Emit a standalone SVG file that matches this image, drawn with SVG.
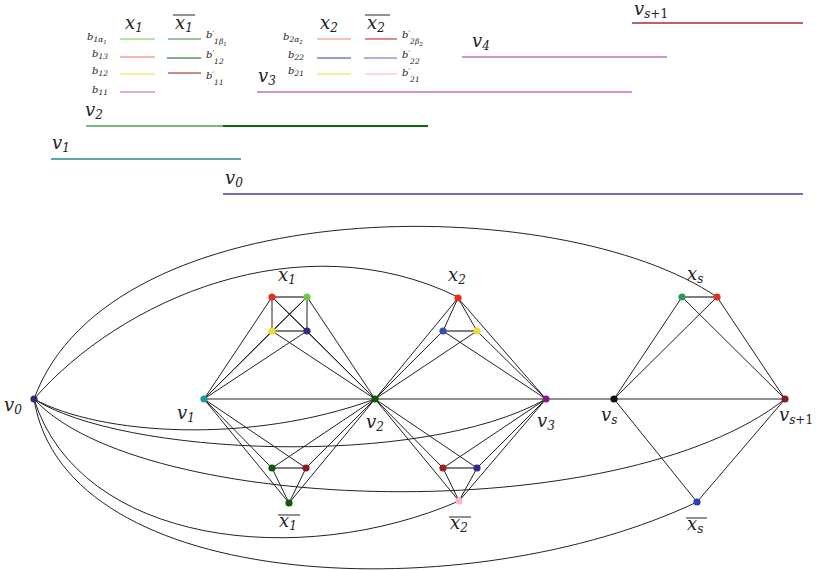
<svg xmlns="http://www.w3.org/2000/svg" width="817" height="570" viewBox="0 0 817 570">
<style>
.e{stroke:#222;stroke-width:1;fill:none}
.h{stroke:#555;stroke-width:1.3;fill:none}
.m{font-family:"DejaVu Serif","Liberation Serif",serif;font-style:italic;font-size:18px;fill:#222}
.s{font-size:12px}
.u{font-style:normal}
.b{font-family:"DejaVu Serif","Liberation Serif",serif;font-style:italic;font-size:10px;fill:#222}
.bs{font-size:7.5px}
.bss{font-size:5.5px}
.ol{stroke:#222;stroke-width:1}
.lg{stroke-width:1.2;fill:none}
.vl{stroke-width:1.5;fill:none}
</style>
<rect width="817" height="570" fill="#fff"/>

<!-- legend -->
<g id="legend">
  <text class="m" x="125" y="29">x<tspan class="s" dy="3">1</tspan></text>
  <text class="m" x="175" y="29">x<tspan class="s" dy="3">1</tspan></text>
  <line class="ol" x1="173" y1="15" x2="195" y2="15"/>
  <line class="lg" x1="120" y1="39" x2="155" y2="39" stroke="#66cc44"/>
  <line class="lg" x1="120" y1="57" x2="155" y2="57" stroke="#f07060"/>
  <line class="lg" x1="120" y1="74" x2="155" y2="74" stroke="#f0e040"/>
  <line class="lg" x1="120" y1="92" x2="155" y2="92" stroke="#c060c0"/>
  <line class="lg" x1="168" y1="39" x2="201" y2="39" stroke="#3a8a3a"/>
  <line class="lg" x1="167" y1="58" x2="201" y2="58" stroke="#0d5a0d"/>
  <line class="lg" x1="168" y1="73" x2="201" y2="73" stroke="#8b1a1a"/>
  <text class="b" x="87" y="40">b<tspan class="bs" dy="2">1α</tspan><tspan class="bss" dy="2">1</tspan></text>
  <text class="b" x="92" y="57">b<tspan class="bs" dy="2">13</tspan></text>
  <text class="b" x="92" y="74">b<tspan class="bs" dy="2">12</tspan></text>
  <text class="b" x="92" y="93">b<tspan class="bs" dy="2">11</tspan></text>
  <text class="b" x="206" y="38">b<tspan class="bs" dy="-2">′</tspan><tspan class="bs" dy="8">1β</tspan><tspan class="bss" dy="2">1</tspan></text>
  <text class="b" x="206" y="58">b<tspan class="bs" dy="-2">′</tspan><tspan class="bs" dy="8">12</tspan></text>
  <text class="b" x="206" y="79">b<tspan class="bs" dy="-2">′</tspan><tspan class="bs" dy="8">11</tspan></text>

  <text class="m" x="320" y="29">x<tspan class="s" dy="3">2</tspan></text>
  <text class="m" x="367" y="29">x<tspan class="s" dy="3">2</tspan></text>
  <line class="ol" x1="365" y1="15" x2="390" y2="15"/>
  <line class="lg" x1="317" y1="39" x2="351" y2="39" stroke="#f08080"/>
  <line class="lg" x1="317" y1="58" x2="351" y2="58" stroke="#3040a0"/>
  <line class="lg" x1="317" y1="74" x2="351" y2="74" stroke="#f0e040"/>
  <line class="lg" x1="365" y1="39" x2="397" y2="39" stroke="#c04040"/>
  <line class="lg" x1="364" y1="58" x2="397" y2="58" stroke="#6060b0"/>
  <line class="lg" x1="365" y1="74" x2="397" y2="74" stroke="#f8c0d0"/>
  <text class="b" x="283" y="40">b<tspan class="bs" dy="2">2α</tspan><tspan class="bss" dy="2">2</tspan></text>
  <text class="b" x="288" y="58">b<tspan class="bs" dy="2">22</tspan></text>
  <text class="b" x="288" y="74">b<tspan class="bs" dy="2">21</tspan></text>
  <text class="b" x="402" y="38">b<tspan class="bs" dy="-2">′</tspan><tspan class="bs" dy="8">2β</tspan><tspan class="bss" dy="2">2</tspan></text>
  <text class="b" x="402" y="58">b<tspan class="bs" dy="-2">′</tspan><tspan class="bs" dy="8">22</tspan></text>
  <text class="b" x="402" y="76">b<tspan class="bs" dy="-2">′</tspan><tspan class="bs" dy="8">21</tspan></text>

  <text class="m" x="634" y="15">v<tspan class="s" dy="3">s<tspan class="u">+1</tspan></tspan></text>
  <line class="vl" x1="632" y1="23" x2="803" y2="23" stroke="#a03030"/>
  <text class="m" x="472" y="47">v<tspan class="s" dy="3">4</tspan></text>
  <line class="vl" x1="462" y1="57" x2="667" y2="57" stroke="#c070c0"/>
  <text class="m" x="258" y="82">v<tspan class="s" dy="3">3</tspan></text>
  <line class="vl" x1="257" y1="92" x2="632" y2="92" stroke="#c070c0"/>
  <text class="m" x="85" y="116">v<tspan class="s" dy="3">2</tspan></text>
  <line x1="86" y1="126" x2="223" y2="126" stroke="#7ab77a" stroke-width="2"/>
  <line x1="223" y1="126" x2="428" y2="126" stroke="#0a6a0a" stroke-width="2"/>
  <text class="m" x="52" y="149">v<tspan class="s" dy="3">1</tspan></text>
  <line class="vl" x1="51" y1="159" x2="241" y2="159" stroke="#2a8a8a"/>
  <text class="m" x="225" y="184">v<tspan class="s" dy="3">0</tspan></text>
  <line class="vl" x1="223" y1="194" x2="803" y2="194" stroke="#4a3aa0"/>
</g>

<!-- connectors -->
<g id="connectors">
  <path class="e" d="M34,399 C110,190 560,190 717,297"/>
  <path class="e" d="M34,399 C120,300 300,220 458,297"/>
  <path class="e" d="M34,399 C100,435 250,445 375,399"/>
  <path class="e" d="M34,399 C120,455 420,470 546,399"/>
  <path class="e" d="M34,399 C140,515 620,530 785,399"/>
  <path class="e" d="M34,399 C80,545 300,570 459,501"/>
  <path class="e" d="M34,399 C65,595 470,610 697,502"/>
  <line class="e" x1="204" y1="399" x2="785" y2="399"/>
  <!-- x1 -->
  <line class="h" x1="272" y1="297" x2="307" y2="297"/>
  <line class="h" x1="272" y1="331" x2="307" y2="331"/>
  <line class="e" x1="272" y1="297" x2="272" y2="331"/>
  <line class="e" x1="307" y1="297" x2="307" y2="331"/>
  <line class="e" x1="272" y1="297" x2="307" y2="331"/>
  <line class="e" x1="307" y1="297" x2="272" y2="331"/>
  <line class="e" x1="204" y1="399" x2="272" y2="297"/>
  <line class="e" x1="204" y1="399" x2="307" y2="297"/>
  <line class="e" x1="204" y1="399" x2="272" y2="331"/>
  <line class="e" x1="204" y1="399" x2="307" y2="331"/>
  <line class="e" x1="375" y1="399" x2="272" y2="297"/>
  <line class="e" x1="375" y1="399" x2="307" y2="297"/>
  <line class="e" x1="375" y1="399" x2="272" y2="331"/>
  <line class="e" x1="375" y1="399" x2="307" y2="331"/>
  <!-- x1 bar -->
  <line class="h" x1="272" y1="468" x2="306" y2="468"/>
  <line class="e" x1="272" y1="468" x2="289" y2="503"/>
  <line class="e" x1="306" y1="468" x2="289" y2="503"/>
  <line class="e" x1="204" y1="399" x2="272" y2="468"/>
  <line class="e" x1="204" y1="399" x2="306" y2="468"/>
  <line class="e" x1="204" y1="399" x2="289" y2="503"/>
  <line class="e" x1="375" y1="399" x2="272" y2="468"/>
  <line class="e" x1="375" y1="399" x2="306" y2="468"/>
  <line class="e" x1="375" y1="399" x2="289" y2="503"/>
  <!-- x2 -->
  <line class="h" x1="443" y1="331" x2="477" y2="331"/>
  <line class="e" x1="458" y1="298" x2="443" y2="331"/>
  <line class="e" x1="458" y1="298" x2="477" y2="331"/>
  <line class="e" x1="375" y1="399" x2="458" y2="298"/>
  <line class="e" x1="375" y1="399" x2="443" y2="331"/>
  <line class="e" x1="375" y1="399" x2="477" y2="331"/>
  <line class="e" x1="546" y1="399" x2="458" y2="298"/>
  <line class="e" x1="546" y1="399" x2="443" y2="331"/>
  <line class="e" x1="546" y1="399" x2="477" y2="331"/>
  <!-- x2 bar -->
  <line class="h" x1="443" y1="468" x2="477" y2="468"/>
  <line class="e" x1="443" y1="468" x2="459" y2="501"/>
  <line class="e" x1="477" y1="468" x2="459" y2="501"/>
  <line class="e" x1="375" y1="399" x2="443" y2="468"/>
  <line class="e" x1="375" y1="399" x2="477" y2="468"/>
  <line class="e" x1="375" y1="399" x2="459" y2="501"/>
  <line class="e" x1="546" y1="399" x2="443" y2="468"/>
  <line class="e" x1="546" y1="399" x2="477" y2="468"/>
  <line class="e" x1="546" y1="399" x2="459" y2="501"/>
  <!-- xs -->
  <line class="h" x1="682" y1="297" x2="717" y2="297"/>
  <line class="e" x1="614" y1="399" x2="682" y2="297"/>
  <line class="e" x1="614" y1="399" x2="717" y2="297"/>
  <line class="e" x1="785" y1="399" x2="682" y2="297"/>
  <line class="e" x1="785" y1="399" x2="717" y2="297"/>
  <line class="e" x1="614" y1="399" x2="697" y2="502"/>
  <line class="e" x1="785" y1="399" x2="697" y2="502"/>
</g>

<!-- nodes -->
<g id="v0"><circle cx="34" cy="399" r="3.6" fill="#2a2a80"/><text class="m" x="4" y="411">v<tspan class="s" dy="3">0</tspan></text></g>
<g id="v1"><circle cx="204" cy="399" r="3.6" fill="#1a9a9a"/><text class="m" x="177" y="419">v<tspan class="s" dy="3">1</tspan></text></g>
<g id="v2"><circle cx="375" cy="399" r="3.6" fill="#0a5a0a"/><text class="m" x="366" y="428">v<tspan class="s" dy="3">2</tspan></text></g>
<g id="v3"><circle cx="546" cy="399" r="3.6" fill="#8a1a8a"/><text class="m" x="537" y="427">v<tspan class="s" dy="3">3</tspan></text></g>
<g id="vs"><circle cx="614" cy="399" r="3.6" fill="#111"/><text class="m" x="601" y="421">v<tspan class="s" dy="3">s</tspan></text></g>
<g id="vs1"><circle cx="785" cy="399" r="3.6" fill="#8b1a1a"/><text class="m" x="779" y="421">v<tspan class="s" dy="3">s<tspan class="u">+1</tspan></tspan></text></g>
<g id="x1">
  <circle cx="272" cy="297" r="3.6" fill="#e03020"/>
  <circle cx="307" cy="297" r="3.6" fill="#66cc44"/>
  <circle cx="272" cy="331" r="3.6" fill="#eedd30"/>
  <circle cx="307" cy="331" r="3.6" fill="#302a80"/>
  <text class="m" x="278" y="281">x<tspan class="s" dy="3">1</tspan></text>
</g>
<g id="x1bar">
  <circle cx="272" cy="468" r="3.6" fill="#0a5a0a"/>
  <circle cx="306" cy="468" r="3.6" fill="#8b1a1a"/>
  <circle cx="289" cy="503" r="3.6" fill="#0a5a0a"/>
  <text class="m" x="279" y="527">x<tspan class="s" dy="3">1</tspan></text>
  <line class="ol" x1="278" y1="515" x2="300" y2="515"/>
</g>
<g id="x2">
  <circle cx="458" cy="298" r="3.6" fill="#e03020"/>
  <circle cx="443" cy="331" r="3.6" fill="#3050b0"/>
  <circle cx="477" cy="331" r="3.6" fill="#eedd30"/>
  <text class="m" x="448" y="281">x<tspan class="s" dy="3">2</tspan></text>
</g>
<g id="x2bar">
  <circle cx="443" cy="468" r="3.6" fill="#a02020"/>
  <circle cx="477" cy="468" r="3.6" fill="#302a90"/>
  <circle cx="459" cy="501" r="3.6" fill="#f8b8c8"/>
  <text class="m" x="450" y="529">x<tspan class="s" dy="3">2</tspan></text>
  <line class="ol" x1="449" y1="517" x2="471" y2="517"/>
</g>
<g id="xs">
  <circle cx="682" cy="297" r="3.6" fill="#2a9a5a"/>
  <circle cx="717" cy="297" r="3.6" fill="#e03020"/>
  <text class="m" x="687" y="280">x<tspan class="s" dy="3">s</tspan></text>
</g>
<g id="xsbar">
  <circle cx="697" cy="502" r="3.6" fill="#2a40b0"/>
  <text class="m" x="687" y="530">x<tspan class="s" dy="3">s</tspan></text>
  <line class="ol" x1="686" y1="518" x2="707" y2="518"/>
</g>
</svg>
